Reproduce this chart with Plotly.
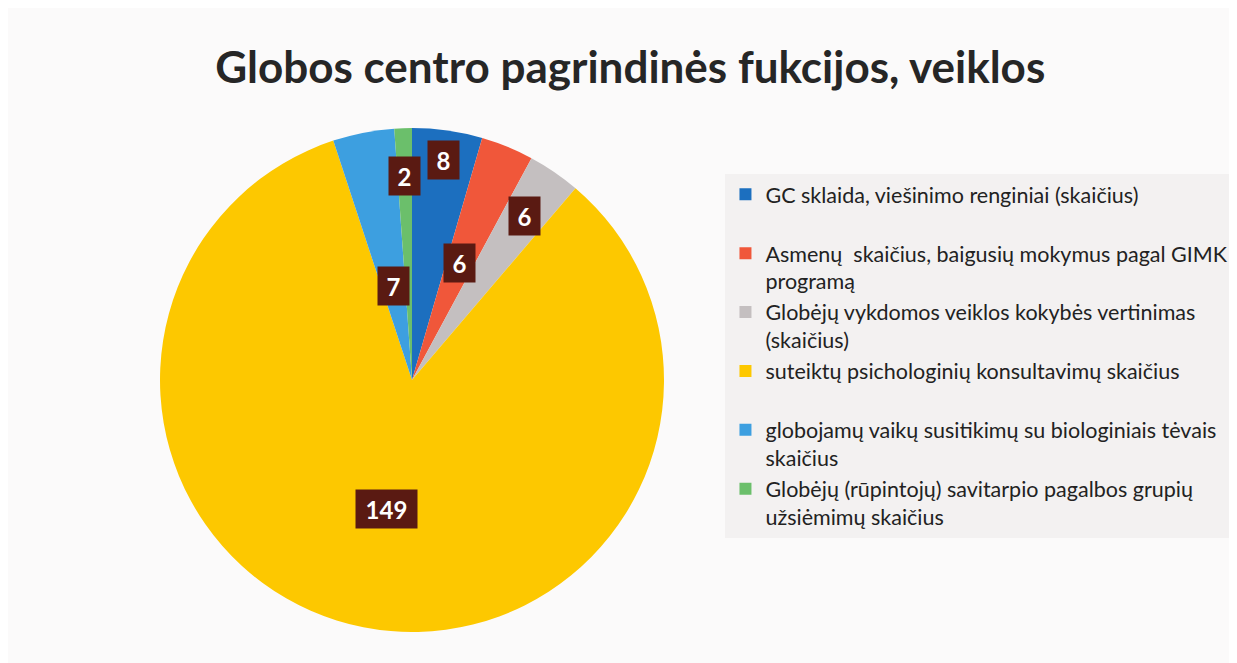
import math
import plotly.graph_objects as go

# Data
categories = [
    "GC sklaida, viešinimo renginiai (skaičius)",
    "Asmenų  skaičius, baigusių mokymus pagal GIMK<br>programą",
    "Globėjų vykdomos veiklos kokybės vertinimas<br>(skaičius)",
    "suteiktų psichologinių konsultavimų skaičius",
    "globojamų vaikų susitikimų su biologiniais tėvais<br>skaičius",
    "Globėjų (rūpintojų) savitarpio pagalbos grupių<br>užsiėmimų skaičius",
]
values = [8, 6, 6, 149, 7, 2]

colors = ["#1c6fbf", "#f0573a", "#c4bfc0", "#fdc800", "#3d9fe0", "#6bbf6b"]
# how far out (fraction of radius) each value box sits
label_radius = [0.88, 0.5, 0.79, 0.52, 0.38, 0.81]

W, H = 1237, 663
cx, cy, R = 404, 372, 252  # pie centre/radius in pixels

# keep single-line legend entries the same height as two-line ones
legend_names = [c if "<br>" in c else c + "<br> " for c in categories]

fig = go.Figure(go.Pie(
    labels=legend_names,
    values=values,
    sort=False,
    direction="clockwise",
    rotation=0,
    marker=dict(colors=colors, line=dict(width=0)),
    textinfo="none",
    hoverinfo="label+value",
    domain=dict(x=[(cx - R) / W, (cx + R) / W], y=[(H - cy - R) / H, (H - cy + R) / H]),
))

# value boxes at the middle angle of each slice
total = sum(values)
cum = 0
annotations = []
for v, rf in zip(values, label_radius):
    mid = (cum + v / 2) / total * 2 * math.pi
    cum += v
    px_ = cx + rf * R * math.sin(mid)
    py_ = cy - rf * R * math.cos(mid)
    annotations.append(dict(
        x=px_ / W, y=1 - py_ / H, xref="paper", yref="paper",
        xanchor="center", yanchor="middle",
        text=f"<b>{v}</b>", showarrow=False,
        font=dict(family="Lato, Carlito, sans-serif", size=24, color="white"),
        bgcolor="#5a1a12", borderpad=0,
        width=16 + 15 * len(str(v)), height=38,
    ))

fig.update_layout(
    width=W, height=H,
    paper_bgcolor="#fbfafa",
    plot_bgcolor="#fbfafa",
    margin=dict(l=0, r=0, t=0, b=0),
    title=dict(
        text="<b>Globos centro pagrindinės fukcijos, veiklos</b>",
        x=0.503, xanchor="center", y=0.91, yanchor="middle",
        font=dict(family="Lato, Carlito, sans-serif", size=44, color="#262626"),
    ),
    legend=dict(
        x=0.58, xanchor="left", y=0.75, yanchor="top",
        valign="top",
        bgcolor="#f3f1f1",
        font=dict(family="Lato, Carlito, sans-serif", size=21.5, color="#222222"),
        itemwidth=30,
        tracegroupgap=0,
    ),
    annotations=annotations,
)

fig.write_html("out.html")
